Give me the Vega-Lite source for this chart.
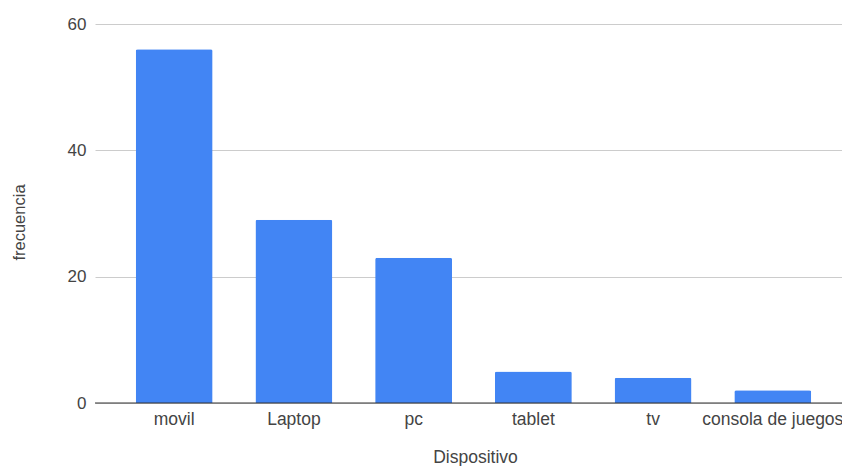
{
  "$schema": "https://vega.github.io/schema/vega-lite/v6.json",
  "autosize": {"type": "none"},
  "width": 747,
  "height": 379,
  "padding": {"left": 95, "top": 24, "right": 0, "bottom": 63},
  "background": "white",
  "config": {
    "view": {"stroke": null},
    "font": "Liberation Sans"
  },
  "data": {
    "values": [
      {"Dispositivo": "movil", "frecuencia": 56},
      {"Dispositivo": "Laptop", "frecuencia": 29},
      {"Dispositivo": "pc", "frecuencia": 23},
      {"Dispositivo": "tablet", "frecuencia": 5},
      {"Dispositivo": "tv", "frecuencia": 4},
      {"Dispositivo": "consola de juegos", "frecuencia": 2}
    ]
  },
  "layer": [
    {
      "mark": {"type": "bar", "color": "#4285F4", "cornerRadiusTopLeft": 2, "cornerRadiusTopRight": 2},
      "encoding": {
        "x": {
          "field": "Dispositivo",
          "type": "nominal",
          "sort": null,
          "scale": {"range": [0, 757], "paddingInner": 0.357, "paddingOuter": 0.34},
          "axis": {
            "title": "Dispositivo",
            "labelAngle": 0,
            "labelFont": "Liberation Sans",
            "labelFontSize": 17.5,
            "labelColor": "#444444",
            "labelBaseline": "alphabetic",
            "labelPadding": 21,
            "ticks": false,
            "tickSize": 0,
            "domain": false,
            "titleFont": "Liberation Sans",
            "titleFontSize": 17.5,
            "titleFontWeight": "normal",
            "titleColor": "#444444",
            "titleBaseline": "alphabetic",
            "titleAnchor": "start",
            "titleAlign": "center",
            "titleX": 380,
            "titleY": 59
          }
        },
        "y": {
          "field": "frecuencia",
          "type": "quantitative",
          "scale": {"domain": [0, 60], "nice": false},
          "axis": {
            "title": "frecuencia",
            "values": [0, 20, 40, 60],
            "domain": false,
            "ticks": false,
            "tickSize": 0,
            "labelPadding": 9,
            "labelFont": "Liberation Sans",
            "labelFontSize": 17,
            "labelColor": "#444444",
            "gridColor": "#cccccc",
            "gridWidth": 1,
            "titleFont": "Liberation Sans",
            "titleFontSize": 16.5,
            "titleFontWeight": "normal",
            "titleColor": "#444444",
            "titleAngle": -90,
            "titleAlign": "center",
            "titleBaseline": "middle",
            "titleAnchor": "start",
            "titleX": -75.5,
            "titleY": 198
          }
        }
      }
    },
    {
      "data": {"values": [{"base": 0}]},
      "mark": {"type": "rule", "color": "#333333", "strokeWidth": 1.2},
      "encoding": {
        "y": {"field": "base", "type": "quantitative"}
      }
    }
  ]
}
